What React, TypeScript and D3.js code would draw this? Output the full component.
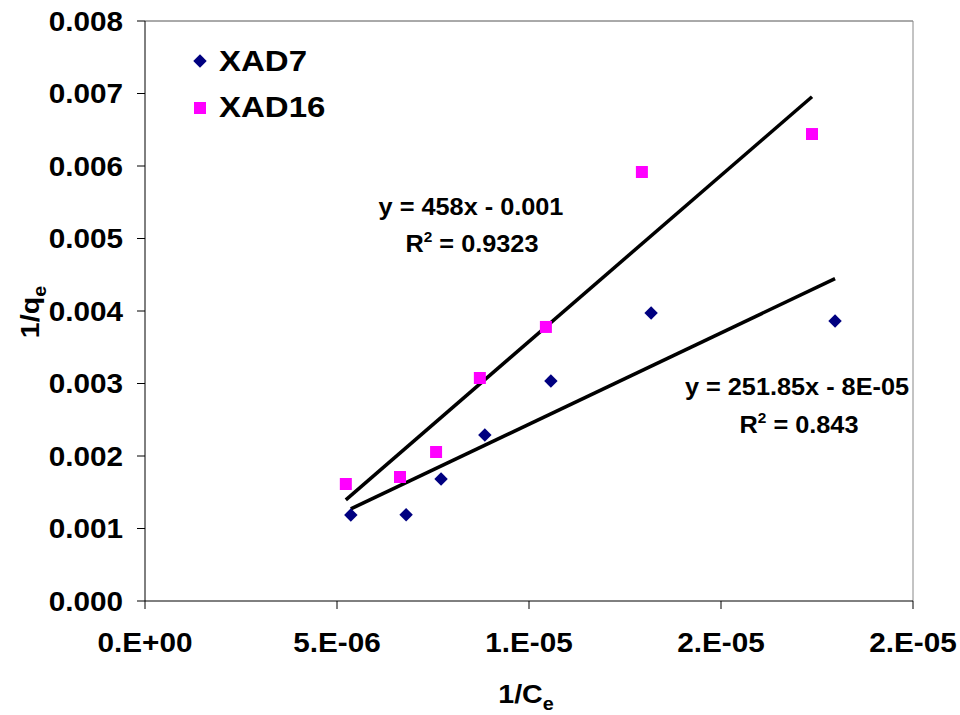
import React from "react";
import * as d3 from "d3";

const xad7X = [5.36e-6, 6.8e-6, 7.71e-6, 8.85e-6, 10.57e-6, 13.18e-6, 17.97e-6];
const xad7Y = [0.001186, 0.00119, 0.001683, 0.00229, 0.003034, 0.003972, 0.003862];
const xad16X = [5.23e-6, 6.64e-6, 7.58e-6, 8.72e-6, 10.44e-6, 12.94e-6, 17.37e-6];
const xad16Y = [0.001614, 0.00171, 0.002055, 0.003076, 0.00378, 0.005917, 0.006441];

const xTickValues = [0, 5e-6, 1e-5, 1.5e-5, 2e-5];
const xTickLabels = ["0.E+00", "5.E-06", "1.E-05", "2.E-05", "2.E-05"];
const yTickValues = [0, 0.001, 0.002, 0.003, 0.004, 0.005, 0.006, 0.007, 0.008];

const fit7 = { slope: 251.85, intercept: -8e-5, eq: "y = 251.85x - 8E-05", r2: "0.843" };
const fit16 = { slope: 458, intercept: -0.001, eq: "y = 458x - 0.001", r2: "0.9323" };

const W = 960, H = 715;
const L = 145, R = 913, T = 21, B = 601;
const FONT = "'Liberation Sans', Arial, sans-serif";
const SX = 1.1;

function T2({ x, y, size, anchor = "start", children }: any) {
  return (
    <text
      transform={`translate(${x},${y}) scale(${SX},1)`}
      fontFamily={FONT}
      fontWeight="bold"
      fontSize={size}
      textAnchor={anchor}
      fill="#000"
    >
      {children}
    </text>
  );
}

export default function App() {
  const x = d3.scaleLinear().domain([0, 2e-5]).range([L, R]);
  const y = d3.scaleLinear().domain([0, 0.008]).range([B, T]);

  const diamond = d3.symbol().type(d3.symbolDiamond2).size(115)();
  const square = d3.symbol().type(d3.symbolSquare).size(144)();

  const trend = (xs: number[], f: any) => {
    const x0 = d3.min(xs)!, x1 = d3.max(xs)!;
    const line = d3.line<number>().x((v) => x(v)).y((v) => y(f.slope * v + f.intercept));
    return line([x0, x1])!;
  };

  return (
    <svg width={W} height={H} style={{ position: "absolute", left: 0, top: 0, background: "#fff" }}>
      <rect x={0} y={0} width={W} height={H} fill="#fff" />
      <line x1={L} y1={T} x2={R} y2={T} stroke="#555" strokeWidth={1} />
      <line x1={R} y1={T} x2={R} y2={B} stroke="#888" strokeWidth={1} />
      <line x1={L} y1={T} x2={L} y2={B} stroke="#000" strokeWidth={1} />
      <line x1={L} y1={B} x2={R} y2={B} stroke="#000" strokeWidth={1} />
      {yTickValues.map((v) => (
        <g key={"y" + v}>
          <line x1={L - 8} x2={L} y1={y(v)} y2={y(v)} stroke="#000" />
          <T2 x={123} y={y(v) + 9.5} size={27} anchor="end">{v.toFixed(3)}</T2>
        </g>
      ))}
      {xTickValues.map((v, i) => (
        <g key={"x" + i}>
          <line x1={x(v)} x2={x(v)} y1={B} y2={B + 8} stroke="#000" />
          <T2 x={x(v)} y={652} size={27} anchor="middle">{xTickLabels[i]}</T2>
        </g>
      ))}
      <path d={trend(xad16X, fit16)} stroke="#000" strokeWidth={3.5} fill="none" />
      <path d={trend(xad7X, fit7)} stroke="#000" strokeWidth={3.5} fill="none" />
      {xad7X.map((v, i) => (
        <path key={"a" + i} d={diamond} transform={`translate(${x(v)},${y(xad7Y[i])})`} fill="#000080" />
      ))}
      {xad16X.map((v, i) => (
        <path key={"b" + i} d={square} transform={`translate(${x(v)},${y(xad16Y[i])})`} fill="#FF00FF" />
      ))}
      <path d={diamond} transform="translate(200,61)" fill="#000080" />
      <T2 x={219} y={71} size={30}>XAD7</T2>
      <path d={square} transform="translate(200,108)" fill="#FF00FF" />
      <T2 x={219} y={117} size={30}>XAD16</T2>
      <T2 x={471} y={215} size={23} anchor="middle">{fit16.eq}</T2>
      <T2 x={472} y={252} size={23} anchor="middle">
        R<tspan fontSize={14} dy={-10}>2</tspan><tspan dy={10}> = {fit16.r2}</tspan>
      </T2>
      <T2 x={797} y={395} size={23} anchor="middle">{fit7.eq}</T2>
      <T2 x={799} y={433} size={23} anchor="middle">
        R<tspan fontSize={14} dy={-10}>2</tspan><tspan dy={10}> = {fit7.r2}</tspan>
      </T2>
      <T2 x={526} y={703} size={26} anchor="middle">
        1/C<tspan fontSize={18} dy={7}>e</tspan>
      </T2>
      <text
        transform={`translate(39,312) rotate(-90) scale(${SX},1)`}
        fontFamily={FONT}
        fontWeight="bold"
        fontSize={26}
        textAnchor="middle"
      >
        1/q<tspan fontSize={18} dy={7}>e</tspan>
      </text>
    </svg>
  );
}
